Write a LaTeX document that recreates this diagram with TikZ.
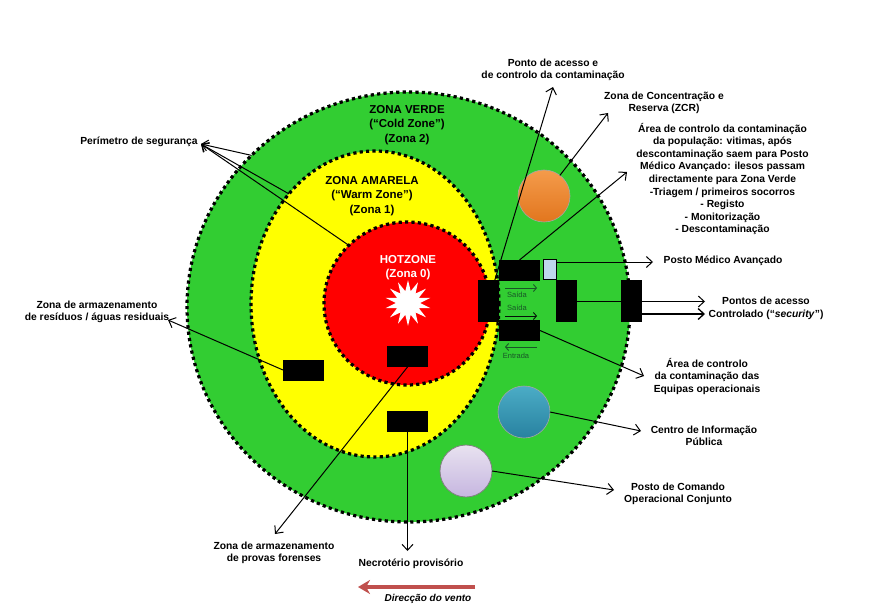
\documentclass[tikz,border=0pt]{standalone}
\usepackage{fontspec}
\setmainfont{Liberation Sans}
\usetikzlibrary{arrows.meta,shapes.geometric}
\definecolor{verde}{RGB}{50,205,50}
\definecolor{amarelo}{RGB}{255,255,0}
\definecolor{vermelho}{RGB}{255,0,0}
\definecolor{vento}{RGB}{192,80,77}
\definecolor{saida}{RGB}{25,85,40}
\definecolor{med}{RGB}{190,215,235}

\begin{document}
\begin{tikzpicture}[x=1pt,y=-1pt]
\tikzset{
	zona/.style={ellipse, draw=black, line width=3.2pt, dash pattern=on 3.2pt off 3.2pt, inner sep=0, outer sep=0},
	posto/.style={rectangle, fill=black, inner sep=0, outer sep=0},
	hbox/.style={posto, minimum width=41pt, minimum height=21pt},
	vbox/.style={posto, minimum width=21pt, minimum height=42pt},
	disco/.style={circle, minimum size=52pt, inner sep=0, outer sep=0},
	txt/.style={align=center, inner sep=0, font=\bfseries\fontsize{10.3}{12.6}\selectfont},
	ztxt/.style={align=center, inner sep=0, font=\bfseries\fontsize{11.5}{14.2}\selectfont},
	mini/.style={inner sep=0, text=saida, font=\fontsize{7.5}{9}\selectfont},
	seta/.style={-{Straight Barb[length=6pt,width=11pt]}, line width=1pt}
}
\useasboundingbox (0,0) rectangle (877,612);

% zonas
\node[zona, fill=verde, minimum width=443pt, minimum height=430pt] (z_2) at(408.5,307) {};
\node[zona, fill=amarelo, minimum width=248pt, minimum height=306pt] (z_1) at(375,304) {};
\node[zona, fill=vermelho, minimum width=166pt, minimum height=163pt] (z_0) at(407,303.5) {};
\node[star, star points=14, star point ratio=1.9, fill=white, minimum size=46pt, inner sep=0] (expl) at(408,303) {};

% texto das zonas
\node[ztxt] (t_2) at(407,125) {ZONA VERDE\\(“Cold Zone”)\\(Zona 2)};
\node[ztxt] (t_1) at(372,196) {ZONA AMARELA\\(“Warm Zone”)\\(Zona 1)};
\node[ztxt, text=white] (t_0) at(408,267.5) {HOTZONE\\(Zona 0)};

% postos
\node[hbox] (b_a) at(519.5,270.5) {};
\node[vbox] (b_b) at(488.5,301) {};
\node[hbox] (b_c) at(519.5,330.5) {};
\node[vbox] (b_d) at(566.5,301) {};
\node[vbox] (b_e) at(631.5,301) {};
\node[rectangle, draw=black, line width=1.5pt, fill=med, minimum width=13pt, minimum height=20pt, inner sep=0, outer sep=0] (b_m) at(550,269.5) {};
\node[hbox] (b_r) at(303.5,370) {};
\node[hbox] (b_h) at(407.5,356.5) {};
\node[hbox] (b_n) at(407.5,421.5) {};

% discos
\node[disco, draw=black!35, line width=.6pt, top color={rgb,255:red,244;green,155;blue,75}, bottom color={rgb,255:red,226;green,118;blue,30}] (c_z) at(544,196) {};
\node[disco, draw=black!35, line width=.6pt, top color={rgb,255:red,75;green,172;blue,198}, bottom color={rgb,255:red,40;green,130;blue,160}] (c_i) at(524,412) {};
\node[disco, draw=black!50, line width=.8pt, top color={rgb,255:red,232;green,226;blue,240}, bottom color={rgb,255:red,198;green,182;blue,224}] (c_p) at(466,471) {};

% textos
\node[txt] (l_per) at(139,141.5) {Perímetro de segurança};
\node[txt] (l_res) at(97,312) {Zona de armazenamento\\de resíduos / águas residuais};
\node[txt] (l_pon) at(553,70) {Ponto de acesso e\\de controlo da contaminação};
\node[txt] (l_zcr) at(664,103) {Zona de Concentração e\\Reserva (ZCR)};
\node[txt] (l_are) at(722.5,179) {Área de controlo da contaminação\\da população: vitimas, após\\descontaminação saem para Posto\\Médico Avançado: ilesos passam\\directamente para Zona Verde\\-Triagem / primeiros socorros\\- Registo\\- Monitorização\\- Descontaminação};
\node[txt] (l_med) at(723,260.5) {Posto Médico Avançado};
\node[txt] (l_ace) at(766,308.5) {Pontos de acesso\\Controlado (“\textit{security}”)};
\node[txt] (l_equ) at(707,376.5) {Área de controlo\\da contaminação das\\Equipas operacionais};
\node[txt] (l_inf) at(704,436) {Centro de Informação\\Pública};
\node[txt] (l_com) at(678,494) {Posto de Comando\\Operacional Conjunto};
\node[txt] (l_for) at(274,553) {Zona de armazenamento\\de provas forenses};
\node[txt] (l_nec) at(411,563.5) {Necrotério provisório};
\node[txt, font=\bfseries\itshape\fontsize{10}{12}\selectfont] (l_ven) at(428,598.5) {Direcção do vento};
\node[mini] (s_1) at(517,294.5) {Saída};
\node[mini] (s_2) at(517,308) {Saída};
\node[mini] (s_3) at(516,356) {Entrada};

% pontas livres
\coordinate (p_per) at(201,144);
\coordinate (p_res) at(168,320);
\coordinate (p_pon) at(553,87);
\coordinate (p_zcr) at(608,113);
\coordinate (p_are) at(627,172);
\coordinate (p_med) at(653,262);
\coordinate (p_ac1) at(705,301.5);
\coordinate (p_ac2) at(705,314);
\coordinate (p_equ) at(644,376);
\coordinate (p_inf) at(641,431);
\coordinate (p_com) at(614,490);
\coordinate (p_for) at(275,534);
\coordinate (p_nec) at(407.5,551);

% ligacoes
\draw[seta] (z_2.136.2) -- (p_per);
\draw[seta] (z_1.128.6) -- (p_per);
\draw[seta] (z_0.135.7) -- (p_per);
\draw[seta] (b_r.west) -- (p_res);
\draw[seta] (b_b.center) -- (p_pon);
\draw[seta] (c_z) -- (p_zcr);
\draw[seta] (b_a.north) -- (p_are);
\draw[seta] (b_m.east |- p_med) -- (p_med);
\draw[line width=1pt] (b_d) -- (b_e);
\draw[seta] (b_e.east |- p_ac1) -- (p_ac1);
\draw[seta, line width=1.3pt] (b_e.east |- p_ac2) -- (p_ac2);
\draw[seta] (b_c.east) -- (p_equ);
\draw[seta] (c_i.east) -- (p_inf);
\draw[seta] (c_p.east) -- (p_com);
\draw[seta] (b_h.south) -- (p_for);
\draw[seta] (b_n.south) -- (p_nec);

% setas pequenas
\coordinate (m_1a) at(505,288);
\coordinate (m_1b) at(537,288);
\coordinate (m_2a) at(505,316);
\coordinate (m_2b) at(537,316);
\coordinate (m_3a) at(537,347);
\coordinate (m_3b) at(505,347);
\draw[-{Straight Barb[length=3pt,width=7pt]}, saida, line width=.9pt] (m_1a) -- (m_1b);
\draw[-{Straight Barb[length=3pt,width=7pt]}, black!80!saida, line width=.9pt] (m_2a) -- (m_2b);
\draw[-{Straight Barb[length=3pt,width=7pt]}, saida, line width=.9pt] (m_3a) -- (m_3b);

% vento
\coordinate (v_a) at(475,587);
\coordinate (v_b) at(358,587);
\draw[-{Stealth[length=12pt,width=14pt]}, vento, line width=3.5pt] (v_a) -- (v_b);

\end{tikzpicture}
\end{document}
